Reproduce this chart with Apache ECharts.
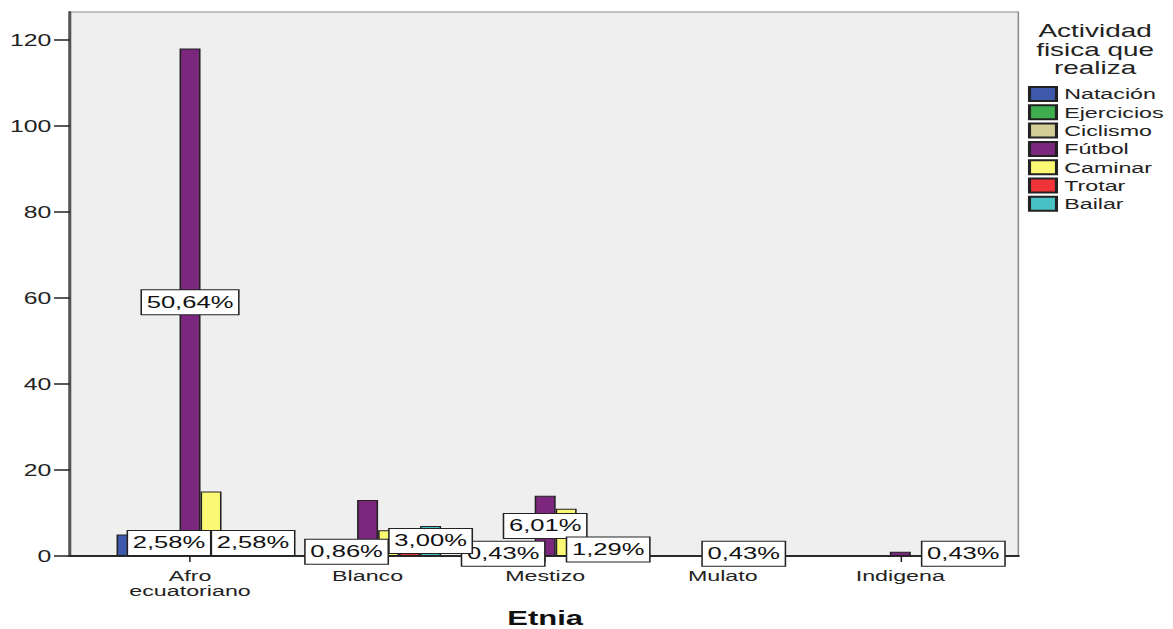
<!DOCTYPE html>
<html>
<head>
<meta charset="utf-8">
<script src="https://cdn.jsdelivr.net/npm/echarts@6/dist/echarts.min.js"></script>
<style>
  html, body { margin: 0; padding: 0; background: #ffffff; overflow: hidden; }
  /* The chart is laid out narrow and widened horizontally, giving the wide SPSS-style lettering */
  #chart { width: 756.77px; height: 629px; transform: scaleX(1.55); transform-origin: 0 0; }
</style>
</head>
<body>
<div id="chart"></div>
<script>
// Etnia categories (x axis)
const categories = ['Afro\necuatoriano', 'Blanco', 'Mestizo', 'Mulato', 'Indigena'];

// Counts per activity, one value per etnia (null = no bar)
const natacion   = [5,    null, null, null, null];
const ejercicios = [null, null, 1,    null, null];
const ciclismo   = [6,    2,    null, null, null];
const futbol     = [118,  13,   14,   null, 1];
const caminar    = [15,   6,    11,   1,    null];
const trotar     = [null, 1,    null, null, null];
const bailar     = [6,    7,    3,    null, 1];

// Total respondents, base for the percentage labels
const TOTAL = 233;

// Y axis tick labels
const yTicks = [0, 20, 40, 60, 80, 100, 120];
const yMax = 126.5;

// Bars that carry a percentage label: [activity, etnia index]
const labeledBars = [
  ['Fútbol', 0], ['Ciclismo', 0], ['Bailar', 0],
  ['Ciclismo', 1], ['Bailar', 1],
  ['Ejercicios', 2], ['Fútbol', 2], ['Bailar', 2],
  ['Caminar', 3],
  ['Bailar', 4]
];

const activities = [
  { name: 'Natación',   data: natacion,   color: '#3e58ac' },
  { name: 'Ejercicios', data: ejercicios, color: '#3ead4d' },
  { name: 'Ciclismo',   data: ciclismo,   color: '#d3ce97' },
  { name: 'Fútbol',     data: futbol,     color: '#7b277d' },
  { name: 'Caminar',    data: caminar,    color: '#fbf873' },
  { name: 'Trotar',     data: trotar,     color: '#ef3338' },
  { name: 'Bailar',     data: bailar,     color: '#48c2c5' }
];

const FONT = 'Liberation Sans, Arial, sans-serif';

function pct(v) {
  return (v / TOTAL * 100).toFixed(2).replace('.', ',') + '%';
}

const series = activities.map(a => ({
  type: 'bar',
  name: a.name,
  xAxisIndex: 1,
  yAxisIndex: 1,
  barWidth: 13.55,
  barGap: '0%',
  itemStyle: { color: a.color, borderColor: '#222', borderWidth: 1 },
  emphasis: { disabled: true },
  data: a.data.map((v, i) => {
    const labeled = labeledBars.some(l => l[0] === a.name && l[1] === i);
    return labeled ? { value: v, label: { show: true } } : v;
  }),
  label: {
    show: false,
    position: 'inside',
    formatter: p => pct(p.value),
    color: '#111',
    fontFamily: FONT,
    fontSize: 16.5,
    backgroundColor: '#ffffff',
    borderColor: '#222',
    borderWidth: 1,
    padding: [4, 3, 3, 3]
  }
}));

const chart = echarts.init(document.getElementById('chart'), null, { renderer: 'svg' });
chart.setOption({
  animation: false,
  backgroundColor: '#ffffff',
  textStyle: { fontFamily: FONT },
  grid: [
    // frame with background and the y axis
    { left: 45.16, right: 100, top: 12, bottom: 73, show: true, outerBoundsMode: 'none',
      backgroundColor: '#efefef', borderColor: '#8a8a8a', borderWidth: 1 },
    // bar area, inset from the frame
    { left: 65.32, right: 118.87, top: 12, bottom: 73, outerBoundsMode: 'none' }
  ],
  xAxis: [
    { gridIndex: 0, type: 'value', min: 0, max: 1,
      axisLine: { show: true, lineStyle: { color: '#2a2a2a', width: 2 } },
      axisTick: { show: false }, axisLabel: { show: false }, splitLine: { show: false } },
    { gridIndex: 1, type: 'category', data: categories,
      axisLine: { show: false },
      axisTick: { show: true, alignWithLabel: true, length: 6, lineStyle: { color: '#222', width: 1 } },
      axisLabel: { color: '#222', fontSize: 15, lineHeight: 15, margin: 12, fontFamily: FONT },
      name: 'Etnia', nameLocation: 'middle', nameGap: 53,
      nameTextStyle: { fontSize: 20, lineHeight: 18, fontWeight: 'bold', color: '#111', fontFamily: FONT } }
  ],
  yAxis: [
    { gridIndex: 0, type: 'value', min: 0, max: yMax, interval: 20,
      axisLine: { show: true, lineStyle: { color: '#555', width: 2 } },
      axisTick: { show: true, length: 10.3, customValues: yTicks, lineStyle: { color: '#222', width: 1.5 } },
      axisLabel: { customValues: yTicks, margin: 12,
        color: '#222', fontSize: 16, fontFamily: FONT },
      splitLine: { show: false } },
    { gridIndex: 1, type: 'value', min: 0, max: yMax, show: false, splitLine: { show: false } }
  ],
  legend: {
    orient: 'vertical',
    left: 663.2,
    top: 86,
    padding: 0,
    itemWidth: 17.4,
    itemHeight: 14,
    itemGap: 2.3,
    icon: 'rect',
    selectedMode: false,
    textStyle: { fontSize: 15, color: '#222', fontFamily: FONT },
    data: activities.map(a => a.name)
  },
  graphic: [
    { type: 'text', x: 706.5, y: 22,
      style: { text: 'Actividad\nfisica que\nrealiza', textAlign: 'center', textVerticalAlign: 'top',
        fontSize: 18, lineHeight: 18.5, fontFamily: FONT, fill: '#222' } }
  ],
  series: series
});
</script>
</body>
</html>
